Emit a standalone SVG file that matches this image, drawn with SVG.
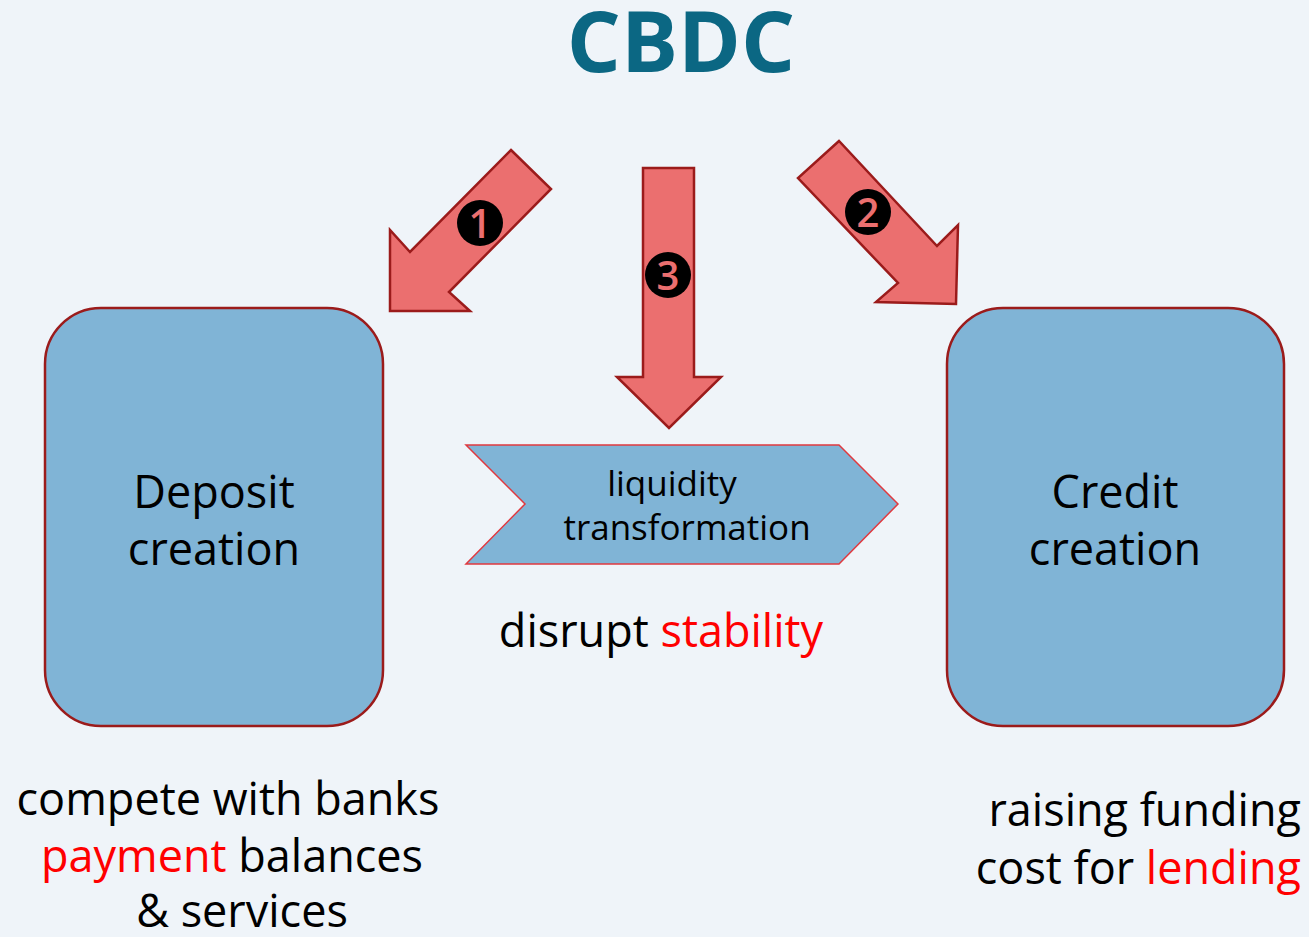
<svg xmlns="http://www.w3.org/2000/svg" width="1309" height="937" viewBox="0 0 1309 937">
  <style>
    .txt { font-family: "Open Sans", "Noto Sans", "Liberation Sans", sans-serif; fill: #000; }
    .red { fill: #ff0000; }
    .box { fill: #80b4d6; stroke: #9b1b1b; stroke-width: 2.5; }
    .arrow { fill: #eb6f6f; stroke: #9b1b1b; stroke-width: 2.5; stroke-linejoin: miter; }
    .badge { fill: #000; }
    .num { font-family: "Open Sans", "Noto Sans", "Liberation Sans", sans-serif; font-weight: 600; font-size: 40px; fill: #eb6f6f; text-anchor: middle; }
  </style>
  <rect width="1309" height="937" fill="#eff4f9"/>

  <g id="title">
    <text x="681" y="72" text-anchor="middle" font-family="Open Sans, Noto Sans, Liberation Sans, sans-serif" font-weight="bold" font-size="85" fill="#0b6783">CBDC</text>
  </g>

  <g id="connectors">
    <!-- arrow 1: towards deposit creation -->
    <polygon class="arrow" points="511,150 551,189 449,292 470,311 390,311 390,230 410,252"/>
    <circle class="badge" cx="480" cy="223" r="23"/>
    <text class="num" x="480" y="238">1</text>
    <!-- arrow 2: towards credit creation -->
    <polygon class="arrow" points="839,141 798,178 898,283 876,302 956,304 958,225 937,246"/>
    <circle class="badge" cx="868" cy="212" r="23"/>
    <text class="num" x="868" y="227">2</text>
    <!-- arrow 3: towards liquidity transformation -->
    <polygon class="arrow" points="643,168 694,168 694,377 721,377 669,428 617,377 643,377"/>
    <circle class="badge" cx="668" cy="275" r="23"/>
    <text class="num" x="668" y="290">3</text>
  </g>

  <g id="deposit">
    <rect class="box" x="45" y="308" width="338" height="418" rx="56" ry="56"/>
    <text class="txt" font-size="45" text-anchor="middle"><tspan x="214" y="508">Deposit</tspan><tspan x="214" y="565">creation</tspan></text>
    <text class="txt" font-size="45" text-anchor="middle"><tspan x="228" y="815">compete with banks</tspan><tspan x="232" y="872"><tspan class="red">payment</tspan> balances</tspan><tspan x="242" y="927">&amp; services</tspan></text>
  </g>

  <g id="credit">
    <rect class="box" x="947" y="308" width="337" height="418" rx="56" ry="56"/>
    <text class="txt" font-size="45" text-anchor="middle"><tspan x="1115" y="508">Credit</tspan><tspan x="1115" y="565">creation</tspan></text>
    <text class="txt" font-size="45" text-anchor="end"><tspan x="1301" y="826">raising funding</tspan><tspan x="1301" y="884">cost for <tspan class="red">lending</tspan></tspan></text>
  </g>

  <g id="liquidity">
    <polygon points="466,445 839,445 898,504 839,564 466,564 525,504" fill="#80b4d6" stroke="#e0393f" stroke-width="1.5"/>
    <text class="txt" font-size="35" text-anchor="middle"><tspan x="672" y="496">liquidity</tspan><tspan x="687" y="540">transformation</tspan></text>
    <text class="txt" font-size="45" text-anchor="middle" x="661" y="647">disrupt <tspan class="red">stability</tspan></text>
  </g>
</svg>
